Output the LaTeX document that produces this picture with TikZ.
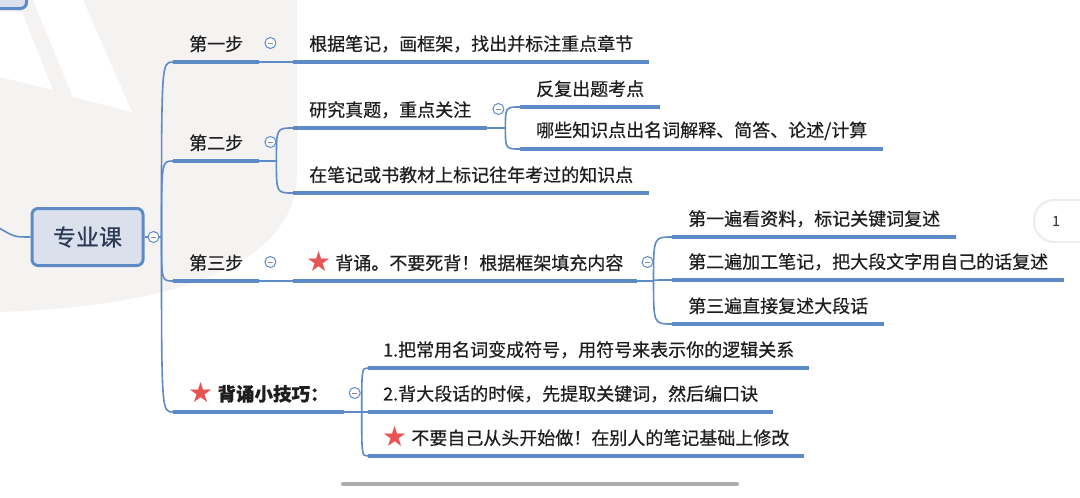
\documentclass[tikz,border=0pt]{standalone}
\usepackage{fontspec}
\setmainfont{Noto Sans CJK SC}[FakeBold=0.5]
\newfontfamily\symfont{DejaVu Sans}
\usetikzlibrary{positioning,calc}
\definecolor{MapBlue}{RGB}{92,139,199}
\definecolor{RootFill}{RGB}{218,225,237}
\definecolor{RootInk}{RGB}{44,58,86}
\definecolor{StarRed}{RGB}{232,84,84}
\definecolor{InkGray}{RGB}{30,30,30}
\definecolor{MarkGray}{RGB}{245,242,242}
\newcommand\redstar{\smash{\raisebox{-1.5pt}{\fontsize{28}{28}\symfont\textcolor{StarRed}{★}}}}
\tikzset{
  root/.style={draw=MapBlue,fill=RootFill,line width=3pt,rounded corners=6pt,
    minimum width=111pt,minimum height=57pt,text=RootInk,font=\fontsize{23}{23}\selectfont},
  topic/.style={anchor=south west,inner xsep=16pt,inner ysep=0pt,minimum height=36pt,
    text=InkGray,font=\fontsize{18}{18}\selectfont},
  uline/.style={draw=MapBlue,line width=4pt},
  link/.style={draw=MapBlue,line width=1.6pt},
  fold/.style={circle,draw=MapBlue,fill=white,line width=1pt,inner sep=0pt,minimum size=11pt,
    path picture={\draw[black!45,line width=1pt]
      ([xshift=-2.5pt]path picture bounding box.center)--([xshift=2.5pt]path picture bounding box.center);}},
}

\begin{document}
\begin{tikzpicture}[x=1pt,y=-1pt]
  \useasboundingbox (0,0) rectangle (1080,498);
  \clip (0,0) rectangle (1080,498);
  % watermark
  \fill[MarkGray] (0,0) -- (297,0) -- (297,175) .. controls (295,255) and (200,305) .. (0,312) -- cycle;
  \fill[white] (0,12) -- (22,12) -- (53,90) -- (0,77) -- cycle;
  \fill[white] (33,0) -- (83,0) -- (132,112) -- (73,97) -- cycle;
  % parent topic, cut off
  \node[root,anchor=south east,minimum width=80pt,minimum height=40pt] (prev) at (28,10) {};
  \coordinate (offl) at (-4,226);
  \node[root] (root) at (87.5,237) {专业课};
  \node[topic] (s1) at (173,62) {第一步};
  \node[topic] (s2) at (173,161) {第二步};
  \node[topic] (s3) at (173,281) {第三步};
  \node[topic,font=\fontsize{18.5}{18.5}\selectfont\bfseries,inner xsep=15pt] (s4) at (173,412)
    {\redstar\ 背诵小技巧：};
  \node[topic] (c1) at (293,62) {根据笔记，画框架，找出并标注重点章节};
  \node[topic] (c2a) at (293,128) {研究真题，重点关注};
  \node[topic] (c2b) at (293,193) {在笔记或书教材上标记往年考过的知识点};
  \node[topic] (d1) at (520,107) {反复出题考点};
  \node[topic] (d2) at (520,149) {哪些知识点出名词解释、简答、论述/计算};
  \node[topic,inner xsep=13pt] (c3) at (293,281) {\redstar\ 背诵。不要死背！根据框架填充内容};
  \node[topic] (e1) at (672,237) {第一遍看资料，标记关键词复述};
  \node[topic] (e2) at (672,280) {第二遍加工笔记，把大段文字用自己的话复述};
  \node[topic] (e3) at (672,324) {第三遍直接复述大段话};
  \node[topic,inner xsep=15pt] (t1) at (368,368) {1.把常用名词变成符号，用符号来表示你的逻辑关系};
  \node[topic,inner xsep=15pt] (t2) at (368,412) {2.背大段话的时候，先提取关键词，然后编口诀};
  \node[topic,inner xsep=14pt] (t3) at (368,456) {\redstar\ 不要自己从头开始做！在别人的笔记基础上修改};
  % links
  \draw[link] (offl) .. controls (14,237) .. (root.west);
  \draw[link] (root.east) -- ++(17,0) coordinate (f0);
  \foreach \n in {s1,s2,s3,s4}
    \draw[link] (f0) .. controls (f0 |- \n.south west) .. (\n.south west);
  \draw[link] (s1.south east) -- (c1.south west);
  \draw[link] (s2.south east) -- ++(17,0) coordinate (f2);
  \foreach \n in {c2a,c2b}
    \draw[link] (f2) .. controls (f2 |- \n.south west) .. (\n.south west);
  \draw[link] (c2a.south east) -- ++(18,0) coordinate (f2a);
  \foreach \n in {d1,d2}
    \draw[link] (f2a) .. controls (f2a |- \n.south west) .. (\n.south west);
  \draw[link] (s3.south east) -- (c3.south west);
  \draw[link] (c3.south east) -- ++(17,0) coordinate (f3);
  \foreach \n in {e1,e2,e3}
    \draw[link] (f3) .. controls (f3 |- \n.south west) .. (\n.south west);
  \draw[link] (s4.south east) -- ++(18,0) coordinate (f4);
  \foreach \n in {t1,t2,t3}
    \draw[link] (f4) .. controls (f4 |- \n.south west) .. (\n.south west);
  \foreach \n in {s1,s2,s3,s4,c1,c2a,c2b,d1,d2,c3,e1,e2,e3,t1,t2,t3}
    \draw[uline] (\n.south west) -- (\n.south east);
  % fold buttons
  \node[fold] (k0) at ($(root.east)+(9,0)$) {};
  \foreach \n in {s1,s2,s3,s4,c2a,c3}
    \node[fold] (k-\n) at ($(\n.south east)+(11,-19)$) {};
  % page badge and scroll bar
  \fill[black!7,rounded corners=21pt] (1033,199) rectangle (1110,243);
  \fill[white,rounded corners=20pt] (1035,201) rectangle (1110,241);
  \node[text=black!75,font=\fontsize{14}{14}\selectfont] (pagenum) at (1056,221) {1};
  \draw[line width=4pt,line cap=round,black!32] (343,484) -- (737,484);
\end{tikzpicture}
\end{document}
